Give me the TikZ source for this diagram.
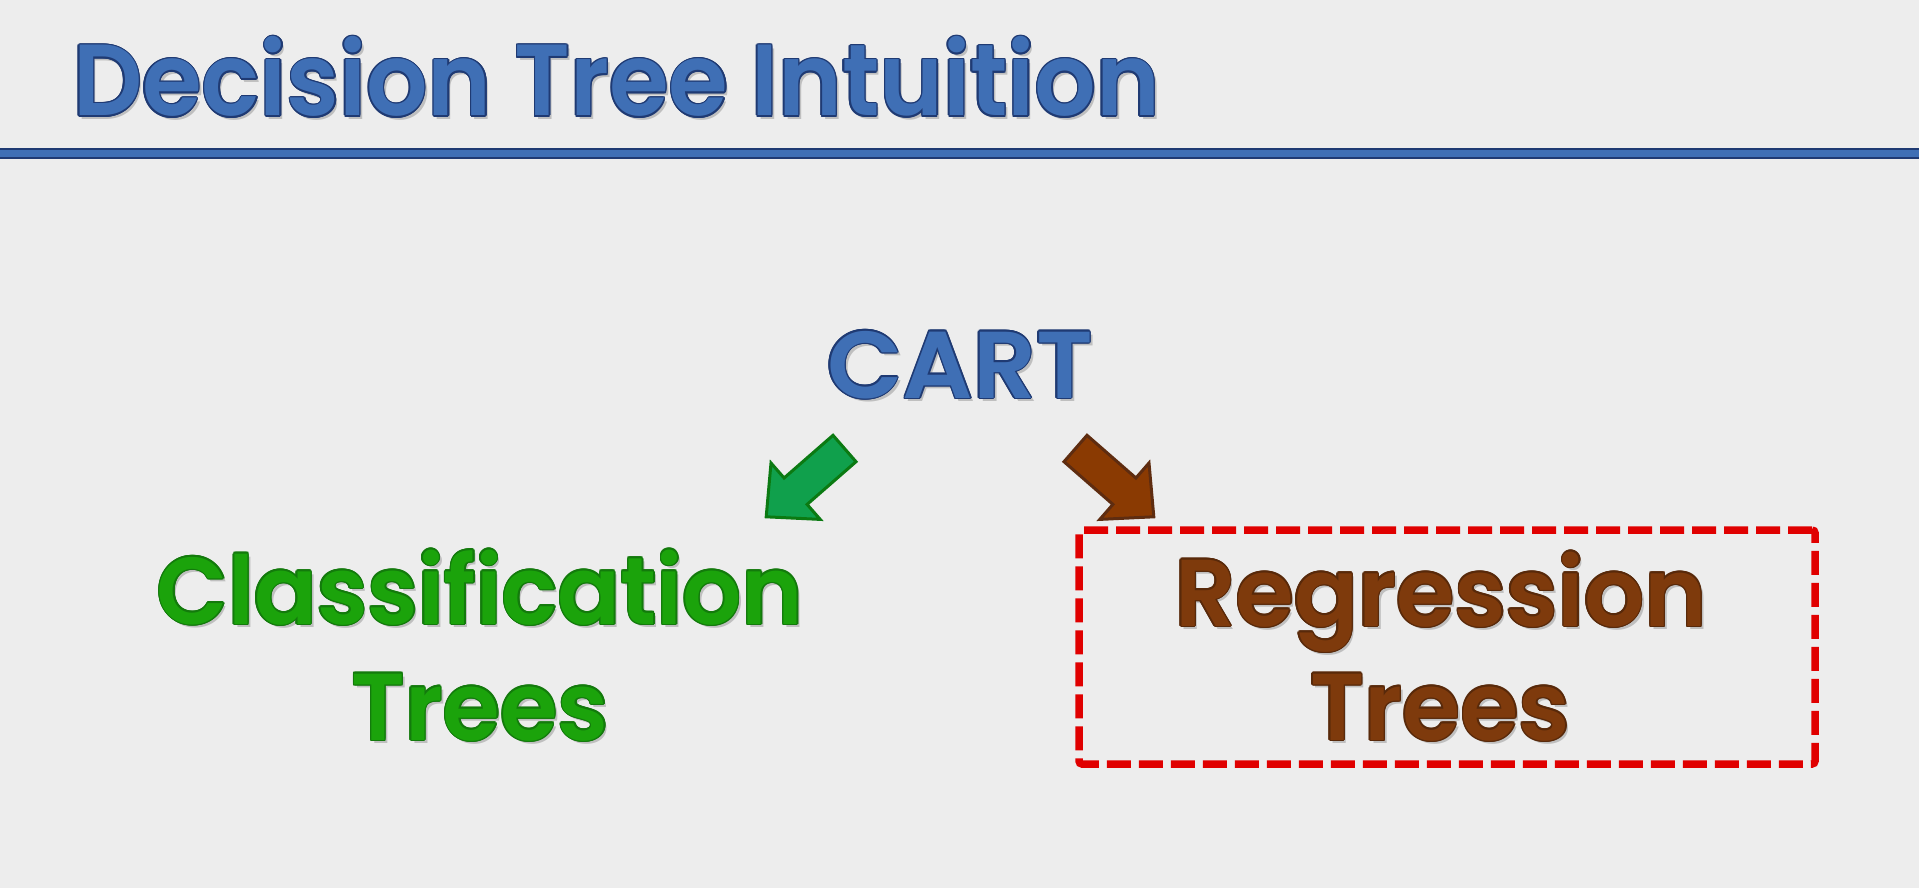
\documentclass[tikz,border=0pt]{standalone}
\usepackage{fontspec}
\setmainfont{Poppins}[BoldFont=* SemiBold]
\definecolor{bgcol}{HTML}{EDEDED}
\definecolor{tblue}{HTML}{3F6FB5}
\definecolor{tbluedk}{HTML}{1F3A73}
\definecolor{tgreen}{HTML}{1BA30B}
\definecolor{tgreendk}{HTML}{137A0C}
\definecolor{tbrown}{HTML}{7E3A0C}
\definecolor{tbrowndk}{HTML}{58290A}
\definecolor{agreen}{HTML}{10A04C}
\definecolor{agreendk}{HTML}{0B7A12}
\definecolor{abrown}{HTML}{8A3A02}
\definecolor{abrowndk}{HTML}{5E2C10}
\definecolor{boxred}{HTML}{E00000}
\newcommand\outltext[4]{%
  \resizebox{#4}{\height}{%
  \rlap{\hspace{3pt}\raisebox{-3pt}{\textcolor{black!25}{#3}}}%
  \foreach \a in {0,30,...,330}{%
    \pgfmathsetmacro\dx{1.5*cos(\a)}\pgfmathsetmacro\dy{1.5*sin(\a)}%
    \rlap{\hspace{\dx pt}\raisebox{\dy pt}{\textcolor{#1}{#3}}}}%
  \textcolor{#2}{#3}}}
\tikzset{
  txt/.style={inner sep=0pt, outer sep=0pt, font=\bfseries\fontsize{#1}{#1}\selectfont},
  blockarrow/.style={line width=3pt, line join=miter},
}
\begin{document}
\begin{tikzpicture}[x=1pt, y=-1pt]
\fill[bgcol] (0,0) rectangle (1919,888);
\useasboundingbox (0,0) rectangle (1919,888);
% title
\node[txt=101, anchor=base west] (title) at (73,116) {\outltext{tbluedk}{tblue}{Decision Tree Intuition}{1087pt}};
\coordinate (rl) at (0,153.5);
\coordinate (rr) at (1919,153.5);
\draw[line width=11pt, tbluedk] (rl) -- (rr);
\draw[line width=7pt, tblue] (rl) -- (rr);
% CART
\node[txt=95, anchor=base] (cart) at (960,398) {\outltext{tbluedk}{tblue}{CART}{266pt}};
% arrows
\filldraw[blockarrow, fill=agreen, draw=agreendk]
  (833,435.3) -- (856,461.7) -- (807.1,504.4) -- (820.2,519.4) -- (766.2,516.8)
  -- (771,463) -- (784.1,478) -- cycle;
\filldraw[blockarrow, fill=abrown, draw=abrowndk]
  (1087,435.3) -- (1064,461.7) -- (1112.9,504.4) -- (1099.8,519.4) -- (1153.8,516.8)
  -- (1149,463) -- (1135.9,478) -- cycle;
% classification
\node[txt=95, anchor=base] (cls1) at (480,624) {\outltext{tgreendk}{tgreen}{Classification}{646pt}};
\node[txt=95, anchor=base] (cls2) at (480,740) {\outltext{tgreendk}{tgreen}{Trees}{257pt}};
% regression
\node[draw=boxred, line width=7.5pt, dash pattern=on 24pt off 8pt, rounded corners=3pt,
      minimum width=736pt, minimum height=234pt, inner sep=0pt] (regbox) at (1447,647) {};
\node[txt=95, anchor=base] (reg1) at (1441,626) {\outltext{tbrowndk}{tbrown}{Regression}{532pt}};
\node[txt=95, anchor=base] (reg2) at (1440,740) {\outltext{tbrowndk}{tbrown}{Trees}{260pt}};
\end{tikzpicture}
\end{document}
